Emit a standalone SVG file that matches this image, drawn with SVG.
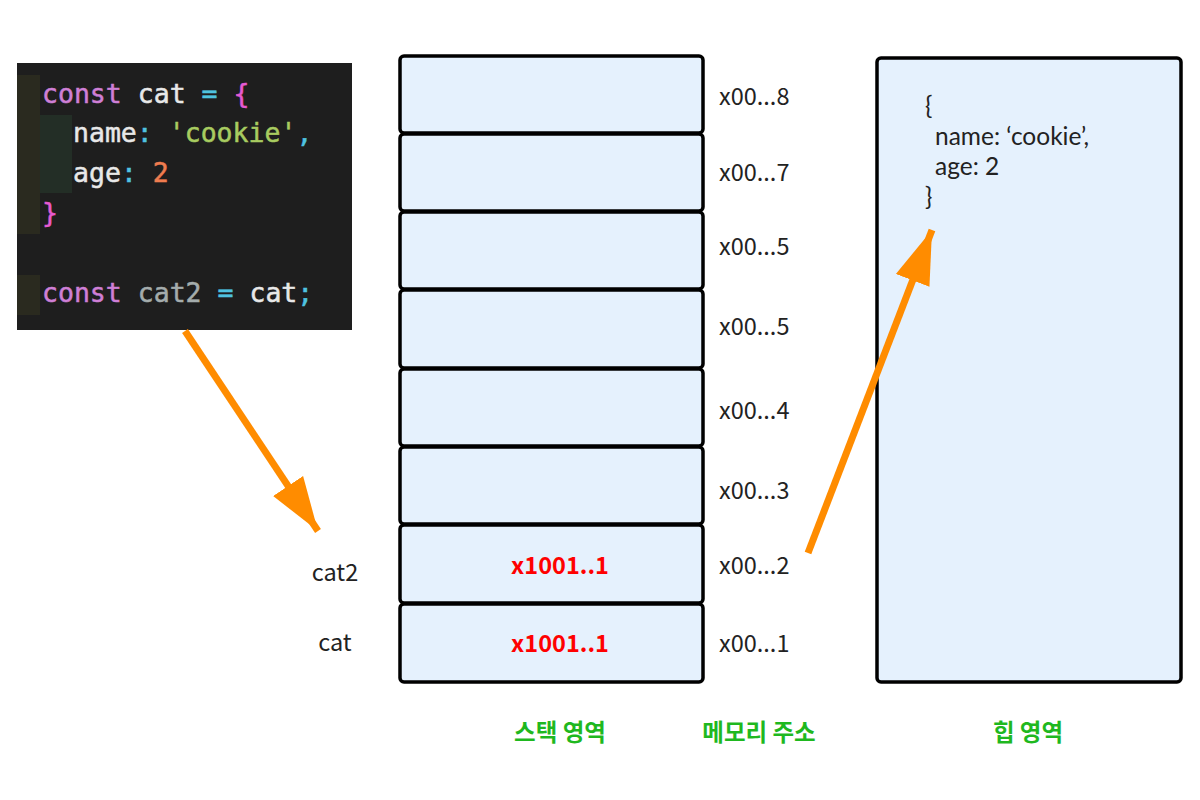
<svg xmlns="http://www.w3.org/2000/svg" width="1200" height="800" viewBox="0 0 1200 800">
<style>
.cell{fill:#e5f1fd;stroke:#000;stroke-width:3.5}
.addr{font-family:"Noto Sans CJK KR","Noto Sans",sans-serif;font-size:23.5px;fill:#222}
.lbl{font-family:"Noto Sans CJK KR","Noto Sans",sans-serif;font-size:23.5px;fill:#222;text-anchor:middle}
.val{font-family:"Noto Sans CJK KR","Noto Sans",sans-serif;font-size:23.5px;font-weight:bold;fill:#ff0000;text-anchor:middle}
.cap{font-family:"Noto Sans CJK KR",sans-serif;font-size:23.5px;font-weight:bold;fill:#1fb81f;text-anchor:middle}
.code{font-family:"DejaVu Sans Mono",monospace;font-size:26.5px;stroke-width:0.5px}
.heap{font-family:Lato,"Noto Sans",sans-serif;font-size:24.5px;fill:#222}
.arrow{stroke:#ff8c00;stroke-width:7;fill:none}
</style>
<defs>
<marker id="ah" markerUnits="userSpaceOnUse" markerWidth="60" markerHeight="44" refX="54" refY="22" orient="auto">
<path d="M0,4 L54,22 L0,40 Z" fill="#ff8c00"/>
</marker>
</defs>
<rect width="1200" height="800" fill="#fff"/>
<g id="code">
<rect x="17" y="63" width="335" height="267" fill="#1e1e1e"/>
<rect x="17" y="75" width="23" height="159" fill="#2a2a1f"/>
<rect x="40" y="115" width="32" height="78" fill="#232e26"/>
<rect x="17" y="275" width="23" height="40" fill="#2a2a1f"/>
<text class="code" x="42" y="103"><tspan fill="#cf7fd6" stroke="#cf7fd6">const</tspan><tspan fill="#e8e8e8" stroke="#e8e8e8"> cat </tspan><tspan fill="#4fc3e0" stroke="#4fc3e0">=</tspan><tspan fill="#e65ad2" stroke="#e65ad2"> {</tspan></text>
<text class="code" x="73" y="142"><tspan fill="#e8e8e8" stroke="#e8e8e8">name</tspan><tspan fill="#4fc3e0" stroke="#4fc3e0">:</tspan><tspan fill="#a8cc60" stroke="#a8cc60"> 'cookie'</tspan><tspan fill="#4fc3e0" stroke="#4fc3e0">,</tspan></text>
<text class="code" x="73" y="182"><tspan fill="#e8e8e8" stroke="#e8e8e8">age</tspan><tspan fill="#4fc3e0" stroke="#4fc3e0">:</tspan><tspan fill="#f07c4f" stroke="#f07c4f"> 2</tspan></text>
<text class="code" x="42" y="222" fill="#e65ad2" stroke="#e65ad2">}</text>
<text class="code" x="42" y="302"><tspan fill="#cf7fd6" stroke="#cf7fd6">const</tspan><tspan fill="#a4acac" stroke="#a4acac"> cat2 </tspan><tspan fill="#4fc3e0" stroke="#4fc3e0">=</tspan><tspan fill="#e8e8e8" stroke="#e8e8e8"> cat</tspan><tspan fill="#4fc3e0" stroke="#4fc3e0">;</tspan></text>
</g>
<g id="stack">
<rect class="cell" x="400" y="56" width="303" height="77" rx="4"/>
<rect class="cell" x="400" y="134" width="303" height="77" rx="4"/>
<rect class="cell" x="400" y="212" width="303" height="77" rx="4"/>
<rect class="cell" x="400" y="290" width="303" height="78" rx="4"/>
<rect class="cell" x="400" y="369" width="303" height="77" rx="4"/>
<rect class="cell" x="400" y="447" width="303" height="77" rx="4"/>
<rect class="cell" x="400" y="525" width="303" height="78" rx="4"/>
<rect class="cell" x="400" y="604" width="303" height="78" rx="4"/>
<text class="val" x="560" y="574">x1001..1</text>
<text class="val" x="560" y="652">x1001..1</text>
</g>
<g id="addresses">
<text class="addr" x="719" y="105">x00...8</text>
<text class="addr" x="719" y="181">x00...7</text>
<text class="addr" x="719" y="255">x00...5</text>
<text class="addr" x="719" y="335">x00...5</text>
<text class="addr" x="719" y="419">x00...4</text>
<text class="addr" x="719" y="499">x00...3</text>
<text class="addr" x="719" y="574">x00...2</text>
<text class="addr" x="719" y="652">x00...1</text>
</g>
<g id="varnames">
<text class="lbl" x="335" y="581">cat2</text>
<text class="lbl" x="335" y="651">cat</text>
</g>
<g id="heap">
<rect class="cell" x="877" y="58" width="304" height="624" rx="4"/>
<text class="heap" x="925" y="114">{</text>
<text class="heap" x="935" y="145">name: ‘cookie’,</text>
<text class="heap" x="935" y="175">age: 2</text>
<text class="heap" x="925" y="205">}</text>
</g>
<g id="captions">
<text class="cap" x="560" y="741">스택 영역</text>
<text class="cap" x="759" y="741">메모리 주소</text>
<text class="cap" x="1028" y="741">힙 영역</text>
</g>
<g id="connectors">
<line class="arrow" x1="185" y1="331" x2="318" y2="531" marker-end="url(#ah)"/>
<line class="arrow" x1="808" y1="553" x2="932" y2="230" marker-end="url(#ah)"/>
</g>
</svg>
